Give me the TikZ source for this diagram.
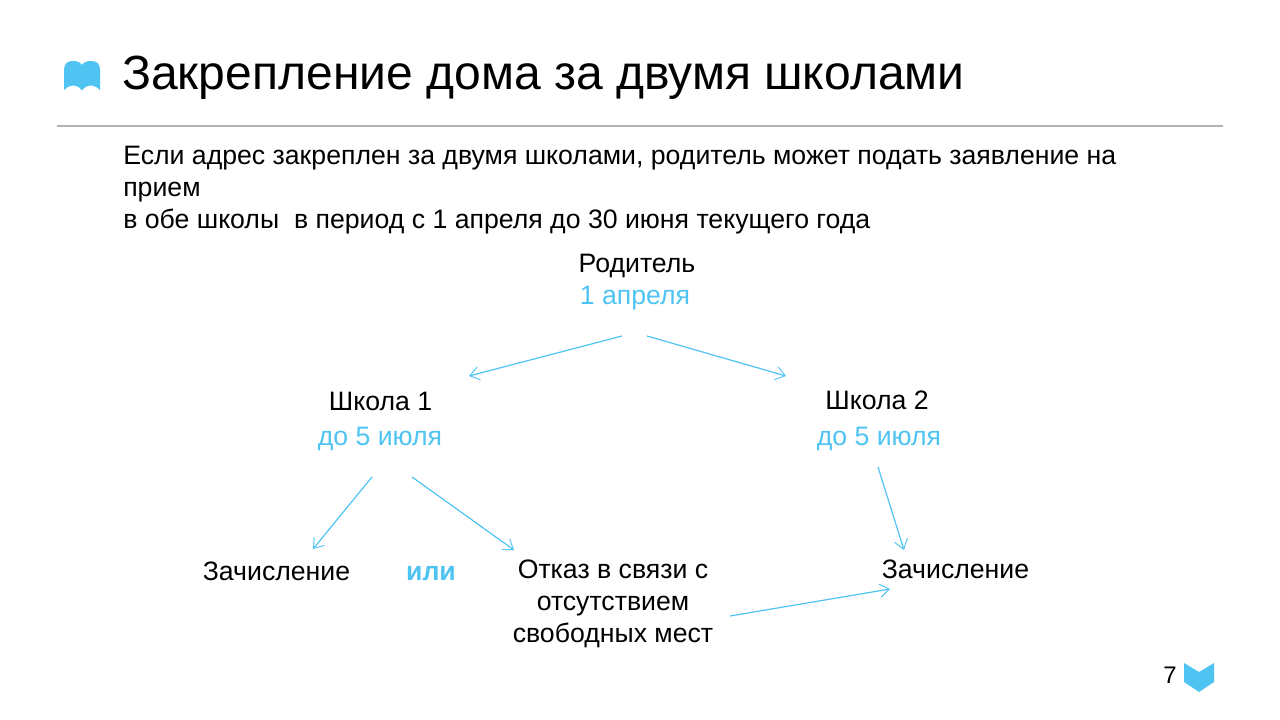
\documentclass[tikz,border=0pt]{standalone}
\usepackage{fontspec}
\setmainfont{Liberation Sans}
\usetikzlibrary{arrows.meta}
\definecolor{accent}{HTML}{4FC3F2}
\definecolor{rulegray}{HTML}{B3B3B3}
\tikzset{
  x=0.75pt,y=-0.75pt,
  title/.style={anchor=west,inner sep=0pt,font=\fontsize{36}{36}\selectfont},
  body/.style={anchor=center,inner sep=0pt,font=\fontsize{20}{24}\selectfont},
  sub/.style={body,text=accent},
  link/.style={draw=accent,line width=0.9pt,-{Straight Barb[length=7pt,width=10pt,line width=0.7pt]}}
}
\begin{document}
\begin{tikzpicture}
\useasboundingbox (0,0) rectangle (1280,720);
% book icon
\fill[accent] (64,90) -- (64,70) .. controls (64,64) and (67,61) .. (73,61) .. controls (77,61) and (80,62) .. (82,65)
  .. controls (84,62) and (87,61) .. (91,61) .. controls (97,61) and (100,64) .. (100,70) -- (100,90)
  .. controls (96,85) and (87,83) .. (82,90.5) .. controls (77,83) and (68,85) .. (64,90) -- cycle;
\node[title] (t) at (122,78) {Закрепление дома за двумя школами};
\draw[rulegray,line width=1pt] (57,126) -- (1223,126);
\node[anchor=north west,inner sep=0pt,align=left,font=\fontsize{20}{24}\selectfont] (intro) at (123,146)
 {Если адрес закреплен за двумя школами, родитель может подать заявление на\\прием\\в обе школы\ \ в период с 1 апреля до 30 июня текущего года};
\node[body] (par) at (637,266) {Родитель};
\node[sub] (pard) at (635,298) {1 апреля};
\node[body] (s1) at (380.5,401) {Школа 1};
\node[sub] (s1d) at (380,439) {до 5 июля};
\node[body] (s2) at (877,400) {Школа 2};
\node[sub] (s2d) at (879,439) {до 5 июля};
\node[body] (z1) at (276.5,571) {Зачисление};
\node[sub,font=\fontsize{20}{24}\selectfont\bfseries] (ili) at (431,574) {или};
\node[body,align=center] (otk) at (613,604) {Отказ в связи с\\отсутствием\\свободных мест};
\node[body] (z2) at (955.5,569) {Зачисление};
\coordinate (a1s) at (622,336); \coordinate (a1e) at (469,376);
\coordinate (a2s) at (647,336); \coordinate (a2e) at (786,376);
\coordinate (a3s) at (372,477); \coordinate (a3e) at (313,549);
\coordinate (a4s) at (412,477); \coordinate (a4e) at (514,550);
\coordinate (a5s) at (878,467); \coordinate (a5e) at (904,550);
\coordinate (a6s) at (730,616); \coordinate (a6e) at (890,589);
\draw[link] (a1s) -- (a1e);
\draw[link] (a2s) -- (a2e);
\draw[link] (a3s) -- (a3e);
\draw[link] (a4s) -- (a4e);
\draw[link] (a5s) -- (a5e);
\draw[link] (a6s) -- (a6e);
\node[anchor=center,inner sep=0pt,font=\fontsize{18}{20}\selectfont] (pg) at (1170,675) {7};
\fill[accent] (1184,663) -- (1199,672) -- (1214,663) -- (1214,682) -- (1199,692) -- (1184,682) -- cycle;
\end{tikzpicture}
\end{document}
